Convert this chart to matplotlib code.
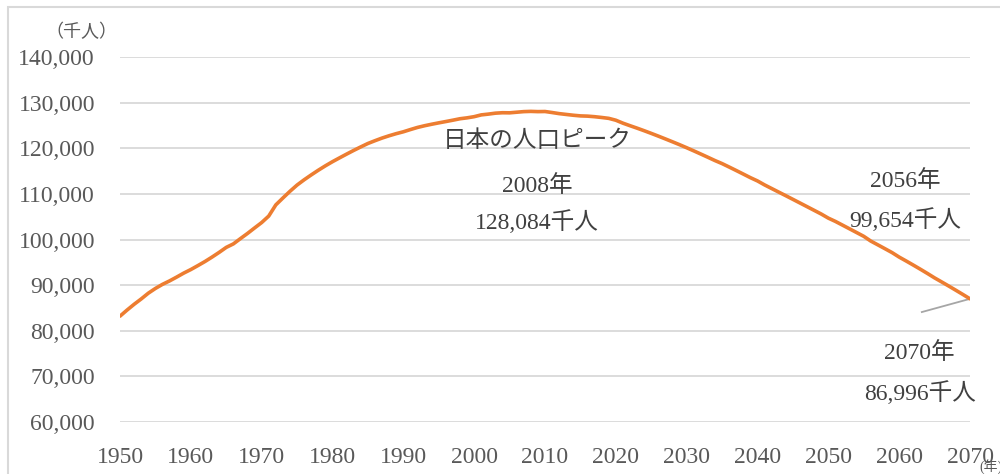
import numpy as np
import matplotlib
matplotlib.use("Agg")
import matplotlib.pyplot as plt
from matplotlib.patches import Rectangle

plt.rcParams['font.family'] = ['Liberation Serif', 'Noto Sans CJK JP', 'DejaVu Sans']

# population of Japan (thousand persons), 1950-2070
years = list(range(1950, 2071))
population = [
    83200, 84541, 85808, 86981, 88239, 89276, 90172, 90928, 91767, 92641,
    93419, 94287, 95181, 96156, 97182, 98275, 99036, 100196, 101331, 102536,
    103720, 105145, 107595, 109104, 110573, 111940, 113094, 114165, 115190, 116155,
    117060, 117902, 118728, 119536, 120305, 121049, 121660, 122239, 122745, 123205,
    123611, 124101, 124567, 124938, 125265, 125570, 125859, 126157, 126472, 126667,
    126926, 127316, 127486, 127694, 127787, 127768, 127901, 128033, 128084, 128032,
    128057, 127834, 127593, 127414, 127237, 127095, 127042, 126919, 126749, 126555,
    126146, 125502, 124947, 124408, 123844, 123262, 122661, 122044, 121417, 120781,
    120116, 119432, 118733, 118023, 117302, 116639, 115887, 115120, 114342, 113556,
    112837, 111968, 111176, 110387, 109599, 108801, 108000, 107197, 106391, 105585,
    104686, 103966, 103154, 102339, 101521, 100700, 99654, 98820, 97980, 97130,
    96148, 95280, 94390, 93480, 92550, 91587, 90700, 89800, 88880, 87950,
    86996,
]

peak_label = ["日本の人口ピーク", "2008年", "128,084千人"]
label_2056 = ["2056年", "99,654千人"]
label_2070 = ["2070年", "86,996千人"]

txt = '#595959'
fs = 17
fig = plt.figure(figsize=(10, 4.74), dpi=100)
ax = fig.add_axes([0.12, 0.1097, 0.85, 0.77])

ax.plot(years, population, color='#ED7D31', lw=2.6, solid_capstyle='round', zorder=3)

ax.set_xlim(1950, 2070)
ax.set_ylim(60000, 140000)
ax.set_xticks(range(1950, 2071, 10))
ax.set_yticks(range(60000, 140001, 10000))
ax.set_yticklabels([f"{v:,}" for v in range(60000, 140001, 10000)])
ax.tick_params(length=0, labelsize=fs, colors=txt)
ax.tick_params(axis='y', pad=18)
ax.tick_params(axis='x', pad=18)
ax.grid(axis='y', color='#d9d9d9', lw=1.3)
for s in ax.spines.values():
    s.set_visible(False)

# annotations
for t, y in zip(peak_label, [121600, 111700, 103800]):
    ax.text(2008.9, y, t, ha='center', va='center', fontsize=fs, color='#404040')
for t, y in zip(label_2056, [112800, 104250]):
    ax.text(2060.8, y, t, ha='center', va='center', fontsize=fs, color='#404040')
for t, y in zip(label_2070, [75100, 66300]):
    ax.text(2062.9, y, t, ha='center', va='center', fontsize=fs, color='#404040')
ax.plot([2063.2, years[-1]], [84100, population[-1]], color='#a6a6a6', lw=1.3, zorder=2)

fig.text(0.081, 0.932, "（千人）", ha='center', va='center', fontsize=13, color=txt)
fig.text(0.979, 0.016, "(年)", ha='left', va='center', fontsize=10, color=txt)

fig.patches.append(Rectangle((0.008, -0.1), 1.2, 1.085, transform=fig.transFigure,
                             fill=False, edgecolor='#d9d9d9', lw=1.5))

fig.savefig('out.png', dpi=100)
